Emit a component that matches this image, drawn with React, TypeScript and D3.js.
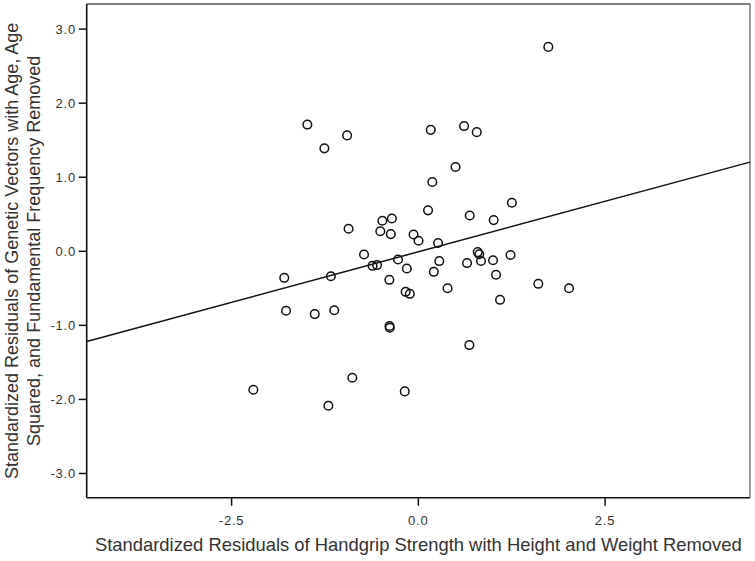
import React from "react";
import * as d3 from "d3";

// Scatter data: standardized residuals (x = handgrip, y = genetic vectors)
const xValues: number[] = [
  -1.486, -1.258, -0.954, -0.934, -0.727, -0.613, -0.553, -0.482, -0.355, -0.509,
  -0.369, -0.064, 0.003, -1.795, -1.171, -0.388, -0.272, -0.154, -0.170, -0.114,
  -1.771, -1.387, -1.126, -0.386, -0.382, 0.130, 0.688, 1.008, 1.252, 0.166,
  0.612, 0.782, 0.498, 0.187, 0.264, 0.280, 0.207, 0.795, 0.815, 0.652,
  0.839, 1.000, 1.234, 1.040, 0.391, 1.606, 2.017, 1.094, 0.683, 1.740,
  -2.209, -0.884, -0.182, -1.205,
];
const yValues: number[] = [
  1.711, 1.390, 1.565, 0.304, -0.043, -0.196, -0.186, 0.412, 0.443, 0.270,
  0.232, 0.227, 0.142, -0.358, -0.337, -0.385, -0.111, -0.233, -0.547, -0.574,
  -0.803, -0.848, -0.796, -1.009, -1.032, 0.553, 0.483, 0.421, 0.655, 1.640,
  1.691, 1.609, 1.138, 0.935, 0.112, -0.132, -0.277, -0.011, -0.040, -0.159,
  -0.131, -0.121, -0.050, -0.317, -0.499, -0.439, -0.499, -0.655, -1.266, 2.760,
  -1.869, -1.707, -1.892, -2.085,
];
const fitSlope = 0.2726;
const fitIntercept = -0.0065;

const xTicks: number[] = [-2.5, 0.0, 2.5];
const yTicks: number[] = [3.0, 2.0, 1.0, 0.0, -1.0, -2.0, -3.0];
const xDomain: [number, number] = [-4.44, 4.44];
const yDomain: [number, number] = [-3.327, 3.339];

const xTitle = "Standardized Residuals of Handgrip Strength with Height and Weight Removed";
const yTitleLines: string[] = [
  "Standardized Residuals of Genetic Vectors with Age, Age",
  "Squared, and Fundamental Frequency Removed",
];

const W = 755;
const H = 561;
const plotLeft = 86.7;
const plotRight = 750;
const plotTop = 4;
const plotBottom = 497.7;
const font = "'Liberation Sans', Arial, sans-serif";

export default function App() {
  const x = d3.scaleLinear().domain(xDomain).range([plotLeft, plotRight]);
  const y = d3.scaleLinear().domain(yDomain).range([plotBottom, plotTop]);
  const fmt1 = d3.format(".1f");
  const fmt = (v: number) => fmt1(v).replace("\u2212", "-");
  const line = d3
    .line<number>()
    .x((d) => x(d))
    .y((d) => y(fitIntercept + fitSlope * d));
  const cy = (plotTop + plotBottom) / 2;
  const cx = (plotLeft + plotRight) / 2;

  return (
    <svg
      width={W}
      height={H}
      style={{ position: "absolute", left: 0, top: 0, background: "#fff" }}
      fontFamily={font}
    >
      <rect x={0} y={0} width={W} height={H} fill="#fff" />
      {/* frame */}
      <line x1={plotLeft} x2={plotRight} y1={plotTop} y2={plotTop} stroke="#555" strokeWidth={1.3} />
      <line x1={plotRight} x2={plotRight} y1={plotTop} y2={plotBottom} stroke="#666" strokeWidth={1.3} />
      <line x1={plotLeft} x2={plotLeft} y1={plotTop} y2={plotBottom} stroke="#111" strokeWidth={1.6} />
      <line x1={plotLeft} x2={plotRight} y1={plotBottom} y2={plotBottom} stroke="#111" strokeWidth={1.6} />

      {/* y ticks */}
      {yTicks.map((t) => (
        <g key={"y" + t}>
          <line x1={plotLeft - 8} x2={plotLeft} y1={y(t)} y2={y(t)} stroke="#111" strokeWidth={1.5} />
          <text x={76} y={y(t)} dy="0.35em" textAnchor="end" fontSize={13} letterSpacing={0.8} fill="#333">
            {fmt(t)}
          </text>
        </g>
      ))}
      {/* x ticks */}
      {xTicks.map((t) => (
        <g key={"x" + t}>
          <line x1={x(t)} x2={x(t)} y1={plotBottom} y2={plotBottom + 8} stroke="#111" strokeWidth={1.5} />
          <text x={x(t)} y={525} textAnchor="middle" fontSize={13} letterSpacing={0.8} fill="#333">
            {fmt(t)}
          </text>
        </g>
      ))}

      {/* regression line */}
      <path d={line(xDomain) || ""} fill="none" stroke="#111" strokeWidth={1.5} />

      {/* points */}
      {xValues.map((v, i) => (
        <circle
          key={i}
          cx={x(v)}
          cy={y(yValues[i])}
          r={4.3}
          fill="none"
          stroke="#111"
          strokeWidth={1.5}
        />
      ))}

      {/* titles */}
      <text x={cx} y={551} textAnchor="middle" fontSize={18.4} fill="#333">
        {xTitle}
      </text>
      {yTitleLines.map((s, i) => (
        <text
          key={i}
          transform={`translate(${18 + i * 22},${cy}) rotate(-90)`}
          textAnchor="middle"
          fontSize={18}
          fill="#333"
        >
          {s}
        </text>
      ))}
    </svg>
  );
}
